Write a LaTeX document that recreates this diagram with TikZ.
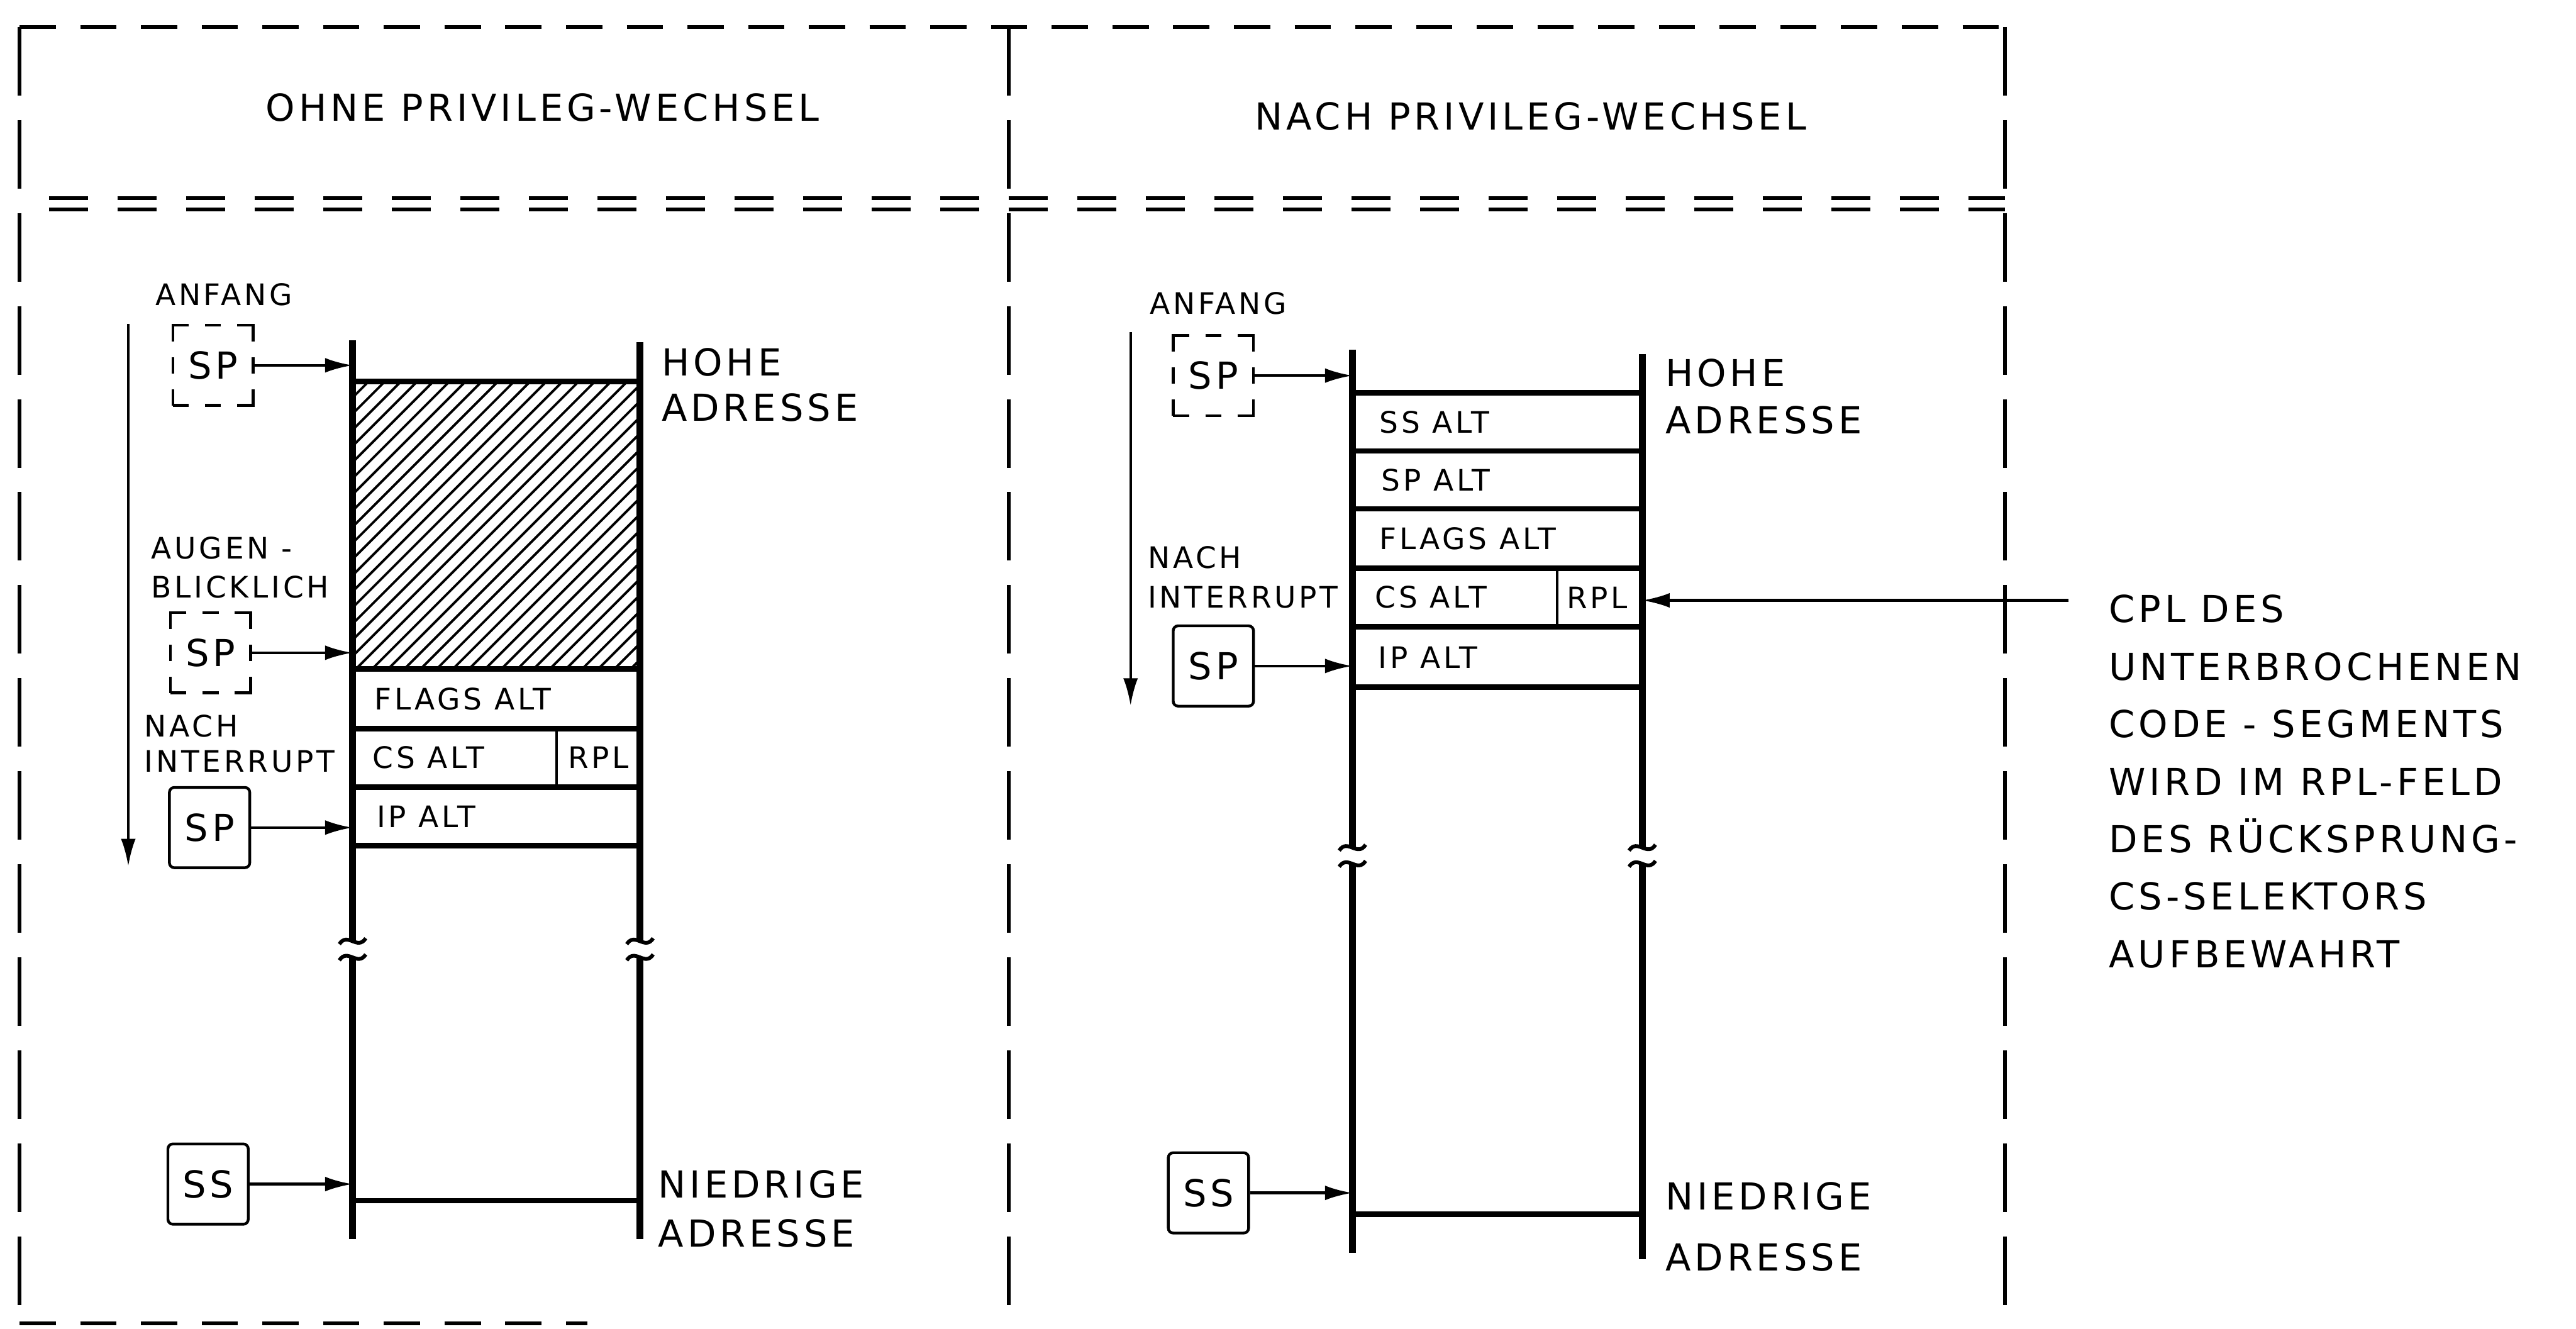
\documentclass[tikz,border=0pt]{standalone}
\usepackage{fontspec}
\setmainfont{DejaVu Sans}[LetterSpace=10]
\usetikzlibrary{arrows.meta}
\newcommand\gross{\fontsize{10.8}{13}\selectfont}
\newcommand\klein{\fontsize{8.6}{11.4}\selectfont}

\begin{document}
\begin{tikzpicture}[x=5mm,y=-5mm,
    rahmen/.style={line width=1.1pt,dash pattern=on 3.7mm off 2.5mm},
    rahmensenk/.style={line width=1.1pt,dash pattern=on 7mm off 2.5mm},
    saeule/.style={line width=2pt},
    zeile/.style={line width=1.6pt},
    bruch/.style={line width=1.1pt},
    zeiger/.style={line width=0.8pt,-{Latex[length=2.8mm,width=1.5mm]}},
    regbox/.style={draw,line width=0.8pt,minimum size=8.2mm,inner sep=0pt,font=\gross},
    altbox/.style={regbox,dash pattern=on 3.28mm off 1.64mm on 1.64mm off 1.64mm,dash phase=1.64mm},
    neubox/.style={regbox,rounded corners=0.5mm},
    marke/.style={align=left,anchor=west,font=\klein,inner sep=0pt},
    adresse/.style={align=left,anchor=west,font=\gross,inner sep=0pt},
    eintrag/.style={anchor=west,font=\klein,inner sep=0pt}]
    \useasboundingbox (0,0) rectangle (52.61,27.13);

    % Rahmen
    \draw[rahmen] (0.4,0.55) -- (40.95,0.55);
    \draw[rahmensenk] (0.4,0.55) -- (0.4,27.02);
    \draw[rahmensenk] (20.6,0.55) -- (20.6,27.13);
    \draw[rahmensenk] (40.95,0.55) -- (40.95,27.13);
    \draw[rahmen] (0.4,27.02) -- (12,27.02);
    \foreach \y in {4.05,4.28}{
        \draw[line width=1.1pt,dash pattern=on 4mm off 3mm] (1.0,\y) -- (40.95,\y);
    }
    \node[font=\gross] (titelL) at (11.08,2.19) {OHNE PRIVILEG-WECHSEL};
    \node[font=\gross] (titelR) at (31.26,2.37) {NACH PRIVILEG-WECHSEL};

    % Stapel ohne Wechsel
    \coordinate (lL) at (7.20,0);
    \coordinate (rL) at (13.07,0);
    \draw[saeule] (7.20,6.95) -- (7.20,19.22) (7.20,19.55) -- (7.20,25.30);
    \draw[saeule] (13.07,6.99) -- (13.07,19.22) (13.07,19.55) -- (13.07,25.30);
    \begin{scope}
        \clip (7.20,7.79) rectangle (13.07,13.66);
        \foreach \i in {0,1,...,36}{
            \draw[line width=0.7pt] ({1.33+\i*0.33},13.66) -- ++(5.87,-5.87);
        }
    \end{scope}
    \foreach \y in {7.79,13.66,14.88,16.07,17.27,24.52}{
        \draw[zeile] (7.20,\y) -- (13.07,\y);
    }
    \draw[line width=0.8pt] (11.37,14.88) -- (11.37,16.07);
    \node[eintrag] (flagsL) at (7.64,14.27) {FLAGS ALT};
    \node[eintrag] (csL) at (7.60,15.47) {CS ALT};
    \node[font=\klein,inner sep=0pt] (rplL) at (12.22,15.47) {RPL};
    \node[eintrag] (ipL) at (7.68,16.67) {IP ALT};

    \node[marke] (anfangL) at (3.16,6.01) {ANFANG};
    \node[marke] (augenL) at (3.08,11.59) {AUGEN -\\BLICKLICH};
    \node[marke] (nachL) at (2.94,15.19) {NACH\\[-1.2pt]INTERRUPT};
    \node[adresse] (hoheL) at (13.50,7.86) {HOHE\\ADRESSE};
    \node[adresse] (niedrigL) at (13.43,24.69) {NIEDRIGE\\[1.3pt]ADRESSE};

    \node[altbox] (spAnfL) at (4.35,7.46) {SP};
    \node[altbox] (spAugL) at (4.30,13.33) {SP};
    \node[neubox] (spNachL) at (4.28,16.90) {SP};
    \node[neubox] (ssL) at (4.25,24.18) {SS};
    \foreach \n in {spAnfL,spAugL,spNachL,ssL}{
        \draw[zeiger] (\n) -- (\n -| lL);
    }
    \coordinate (vonL) at (2.62,6.62);
    \coordinate (bisL) at (2.62,17.69);
    \draw[zeiger] (vonL) -- (bisL);

    % Stapel nach Wechsel
    \coordinate (lR) at (27.62,0);
    \coordinate (rR) at (33.54,0);
    \draw[saeule] (27.62,7.14) -- (27.62,17.31) (27.62,17.64) -- (27.62,25.58);
    \draw[saeule] (33.54,7.23) -- (33.54,17.31) (33.54,17.64) -- (33.54,25.72);
    \foreach \y in {8.02,9.21,10.39,11.60,12.80,14.03,24.80}{
        \draw[zeile] (27.62,\y) -- (33.54,\y);
    }
    \draw[line width=0.8pt] (31.80,11.60) -- (31.80,12.80);
    \node[eintrag] (ssaltR) at (28.16,8.62) {SS ALT};
    \node[eintrag] (spaltR) at (28.20,9.80) {SP ALT};
    \node[eintrag] (flagsR) at (28.16,11.00) {FLAGS ALT};
    \node[eintrag] (csR) at (28.07,12.20) {CS ALT};
    \node[font=\klein,inner sep=0pt] (rplR) at (32.62,12.20) {RPL};
    \node[eintrag] (ipR) at (28.14,13.42) {IP ALT};

    \node[marke] (anfangR) at (23.47,6.19) {ANFANG};
    \node[marke] (nachR) at (23.43,11.79) {NACH\\INTERRUPT};
    \node[adresse] (hoheR) at (34.00,8.10) {HOHE\\[0.7pt]ADRESSE};
    \node[adresse] (niedrigR) at (34.00,25.05) {NIEDRIGE\\[4.6pt]ADRESSE};

    \node[altbox] (spAnfR) at (24.78,7.67) {SP};
    \node[neubox] (spNachR) at (24.78,13.60) {SP};
    \node[neubox] (ssR) at (24.68,24.36) {SS};
    \foreach \n in {spAnfR,spNachR,ssR}{
        \draw[zeiger] (\n) -- (\n -| lR);
    }
    \coordinate (vonR) at (23.09,6.78);
    \coordinate (bisR) at (23.09,14.41);
    \draw[zeiger] (vonR) -- (bisR);

    % Unterbrechungen
    \foreach \x/\y in {7.20/19.22,7.20/19.55,13.07/19.22,13.07/19.55,27.62/17.31,27.62/17.64,33.54/17.31,33.54/17.64}{
        \draw[bruch] (\x-0.27,\y+0.06) .. controls (\x-0.1,\y-0.2) and (\x+0.1,\y+0.2) .. (\x+0.27,\y-0.06);
    }

    % Erklaerung
    \node[adresse,font=\fontsize{10.8}{16.7}\selectfont] (notiz) at (43.06,15.96)
        {CPL DES\\UNTERBROCHENEN\\CODE - SEGMENTS\\WIRD IM RPL-FELD\\DES RÜCKSPRUNG-\\CS-SELEKTORS\\AUFBEWAHRT};
    \coordinate (cplEnde) at (42.25,12.26);
    \draw[zeiger] (cplEnde) -- (cplEnde -| rR);
\end{tikzpicture}
\end{document}
